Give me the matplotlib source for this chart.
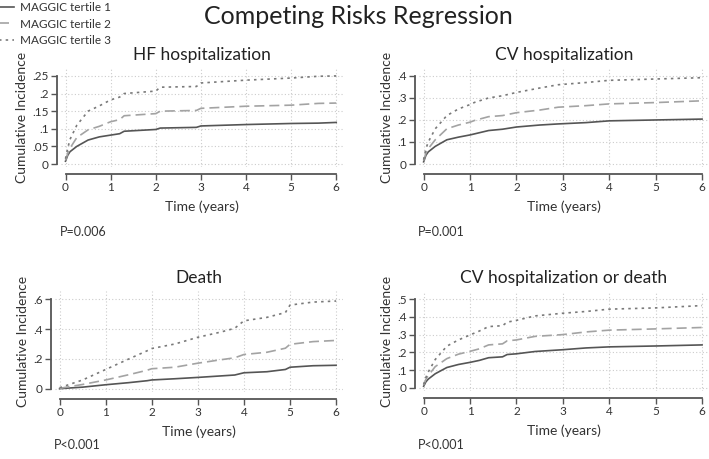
import matplotlib
matplotlib.use('Agg')
import matplotlib.pyplot as plt
from matplotlib.lines import Line2D

plt.rcParams['font.family'] = ['Lato', 'DejaVu Sans']

# tempo (anos) e incidencia cumulativa de cada tercil
hf_t = [0, 0.05, 0.1, 0.25, 0.5, 0.75, 1.0, 1.2, 1.3, 2.0, 2.1, 2.9, 3.0, 4.0, 5.0, 5.6, 6.0]
hf_t1 = [0.008, 0.025, 0.035, 0.05, 0.068, 0.077, 0.082, 0.086, 0.093, 0.098, 0.102, 0.104, 0.108, 0.112, 0.115, 0.116, 0.118]
hf_t2 = [0.01, 0.03, 0.045, 0.075, 0.097, 0.107, 0.12, 0.126, 0.137, 0.143, 0.15, 0.152, 0.158, 0.164, 0.167, 0.172, 0.173]
hf_t3 = [0.015, 0.045, 0.07, 0.11, 0.15, 0.165, 0.182, 0.19, 0.2, 0.207, 0.218, 0.22, 0.23, 0.238, 0.244, 0.249, 0.25]

cv_t = [0, 0.05, 0.1, 0.25, 0.5, 0.75, 1.0, 1.1, 1.4, 1.7, 2.0, 2.5, 2.9, 3.5, 4.0, 5.0, 6.0]
cv_t1 = [0.01, 0.04, 0.055, 0.08, 0.11, 0.122, 0.132, 0.137, 0.152, 0.158, 0.168, 0.177, 0.182, 0.188, 0.196, 0.2, 0.204]
cv_t2 = [0.015, 0.05, 0.07, 0.11, 0.16, 0.177, 0.19, 0.198, 0.215, 0.22, 0.233, 0.245, 0.258, 0.265, 0.273, 0.279, 0.287]
cv_t3 = [0.02, 0.07, 0.1, 0.16, 0.22, 0.25, 0.27, 0.28, 0.3, 0.31, 0.325, 0.345, 0.36, 0.37, 0.38, 0.386, 0.392]

death_t = [0, 0.5, 1.0, 1.5, 1.9, 2.0, 2.5, 3.0, 3.5, 3.8, 4.0, 4.5, 4.9, 5.0, 5.5, 6.0]
death_t1 = [0.002, 0.012, 0.028, 0.042, 0.055, 0.06, 0.068, 0.077, 0.087, 0.093, 0.108, 0.115, 0.13, 0.145, 0.155, 0.158]
death_t2 = [0.004, 0.03, 0.06, 0.095, 0.125, 0.135, 0.145, 0.172, 0.195, 0.208, 0.23, 0.245, 0.272, 0.298, 0.316, 0.324]
death_t3 = [0.008, 0.06, 0.13, 0.2, 0.255, 0.27, 0.3, 0.345, 0.38, 0.405, 0.455, 0.478, 0.51, 0.56, 0.58, 0.587]

comb_t = [0, 0.05, 0.1, 0.25, 0.5, 0.75, 1.0, 1.2, 1.4, 1.7, 1.8, 2.0, 2.4, 3.0, 3.5, 4.0, 5.0, 6.0]
comb_t1 = [0.01, 0.035, 0.05, 0.08, 0.115, 0.132, 0.144, 0.155, 0.17, 0.175, 0.188, 0.192, 0.205, 0.215, 0.225, 0.231, 0.236, 0.242]
comb_t2 = [0.015, 0.05, 0.07, 0.12, 0.165, 0.19, 0.206, 0.22, 0.242, 0.248, 0.265, 0.27, 0.29, 0.3, 0.315, 0.325, 0.332, 0.34]
comb_t3 = [0.02, 0.06, 0.09, 0.16, 0.235, 0.27, 0.298, 0.32, 0.345, 0.35, 0.37, 0.38, 0.405, 0.42, 0.43, 0.443, 0.45, 0.463]

panels = [
  ('HF hospitalization', hf_t, [hf_t1, hf_t2, hf_t3], [0, .05, .1, .15, .2, .25], 'P=0.006'),
  ('CV hospitalization', cv_t, [cv_t1, cv_t2, cv_t3], [0, .1, .2, .3, .4], 'P=0.001'),
  ('Death', death_t, [death_t1, death_t2, death_t3], [0, .2, .4, .6], 'P<0.001'),
  ('CV hospitalization or death', comb_t, [comb_t1, comb_t2, comb_t3], [0, .1, .2, .3, .4, .5], 'P<0.001'),
]
labels = ['MAGGIC tertile 1', 'MAGGIC tertile 2', 'MAGGIC tertile 3']
styles = [('-', '#555555'), ((0, (6, 3)), '#a3a3a3'), ((0, (1.5, 2.5)), '#7a7a7a')]

W, H = 709, 459
fig = plt.figure(figsize=(W / 100, H / 100), dpi=100)

# caixas dos paineis em pixels: esquerda, topo, direita, base; e altura do texto P
boxes = [(61, 68, 343, 167), (419, 68, 709, 167), (55, 291, 343, 392), (419, 291, 709, 391)]
p_y = [232, 232, 445, 445]

def fmt(v):
  if v == 0:
    return '0'
  return ('%g' % v).lstrip('0')

for (title, t, series, yt, ptext), (l, tp, r, b), py in zip(panels, boxes, p_y):
  ax = fig.add_axes([l / W, 1 - b / H, (r - l) / W, (b - tp) / H])
  for ys, (ls, c) in zip(series, styles):
    ax.plot(t, ys, linestyle=ls, color=c, lw=1.2)
  ymax = yt[-1]
  ax.set_xlim(-0.1, 6.15)
  ax.set_ylim(-0.034 * ymax, 1.09 * ymax)
  ax.set_xticks(range(7))
  ax.set_yticks(yt)
  ax.set_yticklabels([fmt(v) for v in yt])
  ax.grid(True, linestyle=(0, (1, 2)), color='#cccccc', lw=0.8)
  for s in ['top', 'right']:
    ax.spines[s].set_visible(False)
  ax.spines['left'].set_position(('outward', 3))
  ax.spines['bottom'].set_position(('outward', 5))
  ax.spines['left'].set_bounds(0, ymax)
  ax.spines['bottom'].set_bounds(0, 6)
  for s in ['left', 'bottom']:
    ax.spines[s].set_color('#555555')
    ax.spines[s].set_linewidth(1.3)
  ax.tick_params(colors='#555555', labelcolor='#333333', labelsize=8.5, length=4, width=1, pad=2)
  ax.set_title(title, fontsize=12.5, color='#222222', pad=6)
  ax.set_xlabel('Time (years)', fontsize=10, color='#333333', labelpad=5)
  ax.set_ylabel('Cumulative Incidence', fontsize=10, color='#333333', labelpad=3)
  ax.text(l / W - 0.002, 1 - py / H, ptext, transform=fig.transFigure,
          fontsize=9, color='#333333', va='center', ha='left')

fig.text(0.505, 0.965, 'Competing Risks Regression', fontsize=18, color='#222222',
         ha='center', va='center')

handles = [Line2D([], [], linestyle=ls, color=c, lw=1.2) for ls, c in styles]
fig.legend(handles, labels, loc='upper left', bbox_to_anchor=(-0.012, 0.999), frameon=False,
           fontsize=8.5, handlelength=1.8, handletextpad=0.5, labelspacing=0.5,
           borderaxespad=0, borderpad=0.1, labelcolor='#333333')

fig.savefig('out.png', dpi=100, facecolor='white')
